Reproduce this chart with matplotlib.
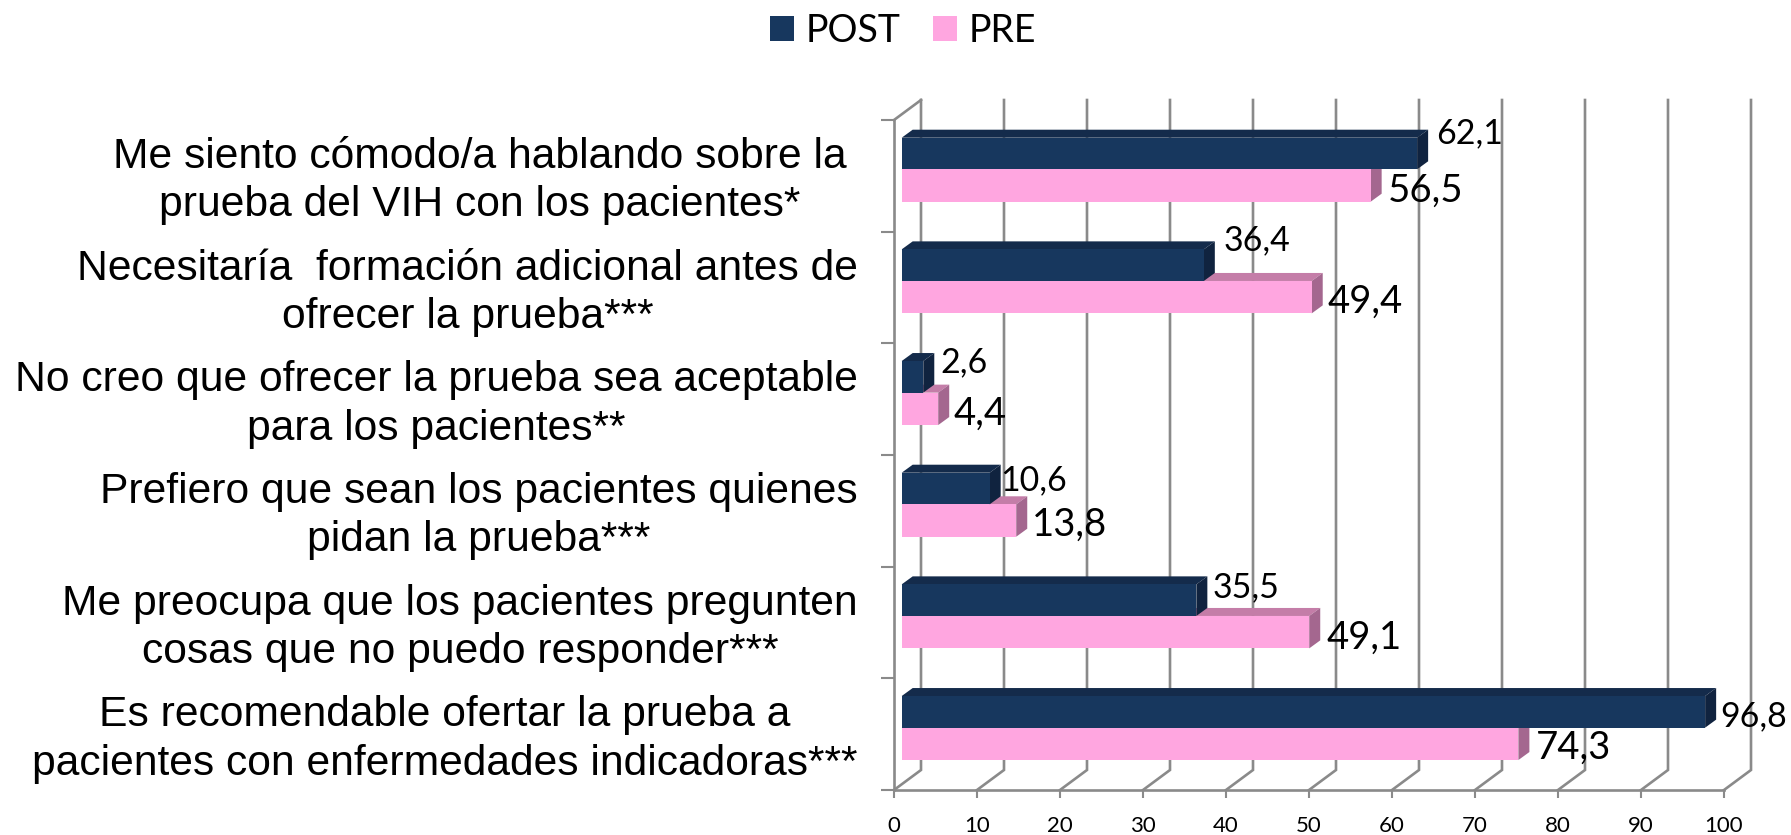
import matplotlib
matplotlib.use("Agg")
import matplotlib.pyplot as plt
from matplotlib.patches import Polygon, Patch
from matplotlib.transforms import ScaledTranslation

categories = [
    "Me siento cómodo/a hablando sobre la\nprueba del VIH con los pacientes*",
    "Necesitaría  formación adicional antes de\nofrecer la prueba***",
    "No creo que ofrecer la prueba sea aceptable\npara los pacientes**",
    "Prefiero que sean los pacientes quienes\npidan la prueba***",
    "Me preocupa que los pacientes pregunten\ncosas que no puedo responder***",
    "Es recomendable ofertar la prueba a\npacientes con enfermedades indicadoras***",
]
post_values = [62.1, 36.4, 2.6, 10.6, 35.5, 96.8]
pre_values = [56.5, 49.4, 4.4, 13.8, 49.1, 74.3]
x_ticks = list(range(0, 101, 10))

W, H = 1791, 835
L_PX, R_PX, T_PX, B_PX = 894, 1724, 120, 790
PX_X = (R_PX - L_PX) / 100
PX_Y = (B_PX - T_PX) / len(categories)

C_GRID = "#8a8a8a"
POST = ("#17375E", "#142B4B", "#10233F")
PRE = ("#FFA6E0", "#C47DA8", "#A4678F")

plt.rcParams["font.family"] = ["Lato", "DejaVu Sans"]
fig = plt.figure(figsize=(W / 100, H / 100), dpi=100)
ax = fig.add_axes([L_PX / W, 1 - B_PX / H, (R_PX - L_PX) / W, (B_PX - T_PX) / H])
ax.set_xlim(0, 100)
ax.set_ylim(len(categories), 0)


def dx(px):
    return px / PX_X


def dy(px):
    return px / PX_Y


# wall and floor of the 3-D box
WALL_X, WALL_Y = dx(27), dy(20)
for v in x_ticks:
    ax.plot([v, v + WALL_X, v + WALL_X], [len(categories), len(categories) - WALL_Y, -WALL_Y],
            color=C_GRID, lw=1.9, clip_on=False, zorder=1, solid_joinstyle="miter")
ax.plot([0, WALL_X], [0, -WALL_Y], color=C_GRID, lw=1.9, clip_on=False, zorder=1)

for s in ("top", "right"):
    ax.spines[s].set_visible(False)
for s in ("left", "bottom"):
    ax.spines[s].set_color(C_GRID)
    ax.spines[s].set_linewidth(1.9)

ax.set_xticks(x_ticks)
ax.tick_params(axis="x", length=5.5, width=1.5, color=C_GRID, labelsize=16, pad=13.5, labelcolor="black")
ax.set_yticks(range(len(categories) + 1))
ax.set_yticklabels([])
ax.tick_params(axis="y", which="major", length=9.5, width=1.5, color=C_GRID)

ax.set_yticks([i + 0.5 for i in range(len(categories))], minor=True)
ax.set_yticklabels(categories, minor=True, fontfamily="Liberation Sans", fontsize=30.7,
                   ha="right", multialignment="center", linespacing=1.27)
ax.tick_params(axis="y", which="minor", length=0, pad=26)
lab_shift = [-11, 0, 0, 0, 0, 0]
for lab, s in zip(ax.get_yticklabels(minor=True), lab_shift):
    lab.set_transform(lab.get_transform() + ScaledTranslation(s / 100, 3.5 / 100, fig.dpi_scale_trans))

# 3-D bars
BAR_X0 = dx(7.7)
POST_TOP, MID, PRE_BOT = dy(17.7), dy(49.3), dy(81.7)
DEPTH_X, DEPTH_Y = dx(11), dy(8)


def bar3d(i, value, y0, y1, cols, z):
    top = i + y0
    bot = i + y1
    x0 = BAR_X0
    x1 = BAR_X0 + value
    ax.add_patch(Polygon([(x0, top), (x0 + DEPTH_X, top - DEPTH_Y), (x1 + DEPTH_X, top - DEPTH_Y), (x1, top)],
                         fc=cols[1], ec="none", clip_on=False, zorder=z))
    ax.add_patch(Polygon([(x1, top), (x1 + DEPTH_X, top - DEPTH_Y), (x1 + DEPTH_X, bot - DEPTH_Y), (x1, bot)],
                         fc=cols[2], ec="none", clip_on=False, zorder=z))
    ax.barh(i + (y0 + y1) / 2, value, height=y1 - y0, left=x0, color=cols[0], zorder=z + 0.1, clip_on=False)


for i, (po, pr) in enumerate(zip(post_values, pre_values)):
    z = 3 + i
    bar3d(i, pr, MID, PRE_BOT, PRE, z)
    bar3d(i, po, POST_TOP, MID, POST, z + 0.3)

# data labels (offsets in pixels from the bar's end and centre)
post_off = [(19, 20), (20, 25), (17.5, 15), (11, 8), (16, 13), (15, -4)]
pre_off = [(17, -5), (16, -5), (15, -5), (16, -4), (17, -6), (17, -4)]


def fmt(v):
    return f"{v:.1f}".replace(".", ",")


for i in range(len(categories)):
    ax.annotate(fmt(post_values[i]), (BAR_X0 + post_values[i], i + (POST_TOP + MID) / 2),
                xytext=(post_off[i][0] * 0.72, post_off[i][1] * 0.72), textcoords="offset points",
                fontsize=24.5, va="center", ha="left", color="black", zorder=30, annotation_clip=False)
    ax.annotate(fmt(pre_values[i]), (BAR_X0 + pre_values[i], i + (MID + PRE_BOT) / 2),
                xytext=(pre_off[i][0] * 0.72, pre_off[i][1] * 0.72), textcoords="offset points",
                fontsize=27.5, va="center", ha="left", color="black", zorder=30, annotation_clip=False)

# legend
handles = [Patch(fc=POST[0], ec="none", label="POST"), Patch(fc=PRE[0], ec="none", label="PRE")]
fig.legend(handles=handles, loc="center", bbox_to_anchor=(903 / W, 1 - 31 / H), ncol=2, frameon=False,
           fontsize=27, handlelength=0.64, handleheight=0.64, handletextpad=0.32, columnspacing=0.85,
           borderpad=0, borderaxespad=0)

fig.savefig("out.png", dpi=100, facecolor="white")
